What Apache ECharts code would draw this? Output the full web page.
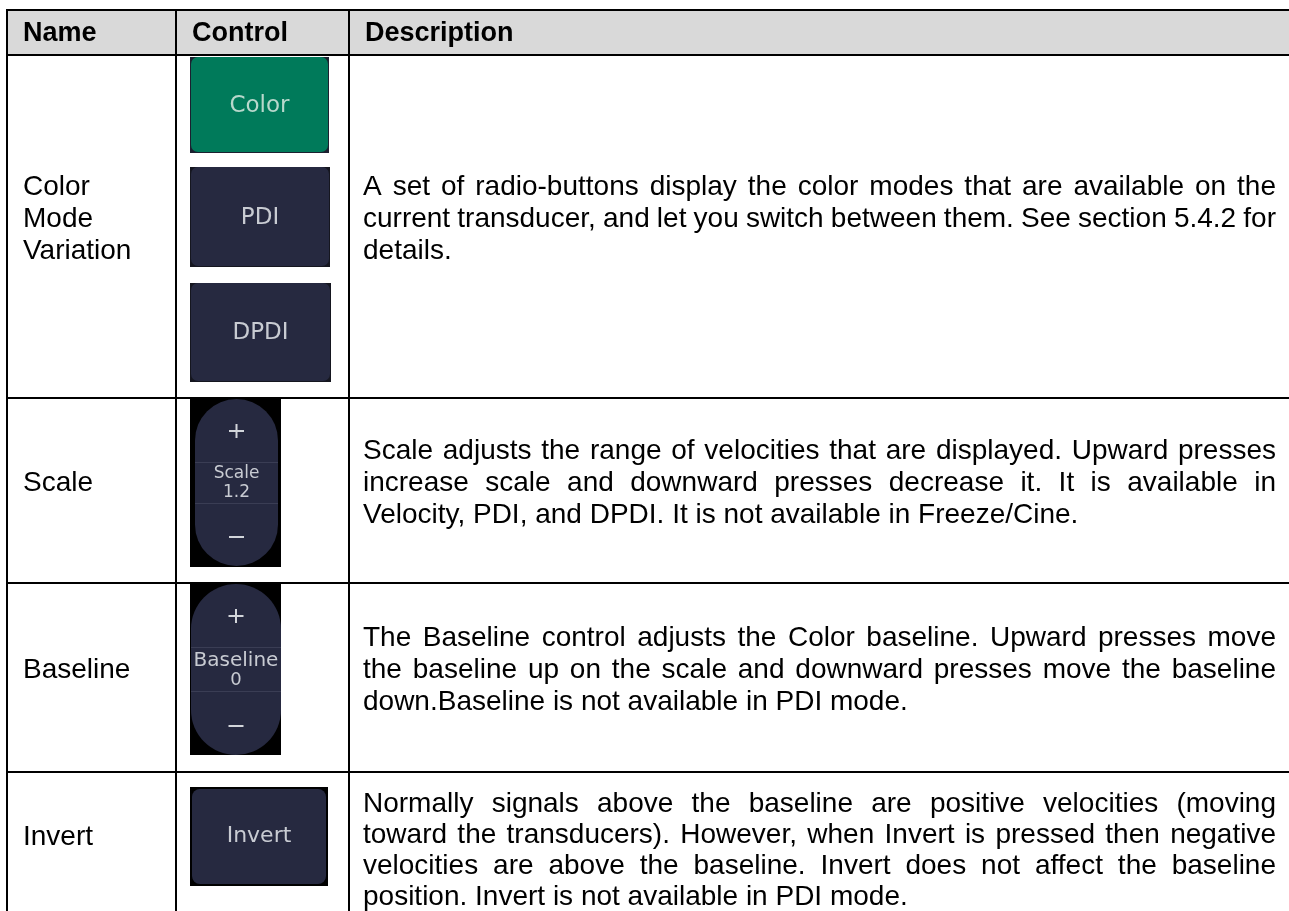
<!DOCTYPE html>
<html>
<head>
<meta charset="utf-8">
<script src="https://cdn.jsdelivr.net/npm/echarts@6/dist/echarts.min.js"></script>
<style>
html,body{margin:0;padding:0;background:#fff;}
#main{width:1289px;height:911px;}
</style>
</head>
<body>
<div id="main"></div>
<script>
// ---- data ----
const headers = ['Name', 'Control', 'Description'];
const names = [['Color', 'Mode', 'Variation'], ['Scale'], ['Baseline'], ['Invert']];
const colorModes = ['Color', 'PDI', 'DPDI'];
const stepperLabels = [['Scale', '1.2'], ['Baseline', '0']];
const toggleLabel = 'Invert';
const descriptions = [
  ['A set of radio-buttons display the color modes that are available on the',
   'current transducer, and let you switch between them. See section 5.4.2 for',
   'details.'],
  ['Scale adjusts the range of velocities that are displayed. Upward presses',
   'increase scale and downward presses decrease it. It is available in',
   'Velocity, PDI, and DPDI. It is not available in Freeze/Cine.'],
  ['The Baseline control adjusts the Color baseline. Upward presses move',
   'the baseline up on the scale and downward presses move the baseline',
   'down.Baseline is not available in PDI mode.'],
  ['Normally signals above the baseline are positive velocities (moving',
   'toward the transducers). However, when Invert is pressed then negative',
   'velocities are above the baseline. Invert does not affect the baseline',
   'position. Invert is not available in PDI mode.']
];

// ---- layout ----
const colX = [7, 176, 349, 1290];
const rowY = [10, 55, 398, 583, 772, 922];
const textFont = '28px "Liberation Sans", Arial, sans-serif';
const boldFont = 'bold 27px "Liberation Sans", Arial, sans-serif';
const uiFont = '"DejaVu Sans", sans-serif';
const lineHs = [32, 32, 32, 31];
const descLeft = 363, descRight = 1276;
const NAVY = '#262940', GREEN = '#007A5A', UITXT = '#C8CBD2';

const measureCtx = document.createElement('canvas').getContext('2d');
function tw(t, font) { measureCtx.font = font; return measureCtx.measureText(t).width; }

function txt(t, x, y, font, fill, align) {
  return {
    type: 'text', silent: true,
    style: {
      text: t, x: x, y: y, font: font, fill: fill,
      align: align || 'left', verticalAlign: 'middle',
      textAlign: align || 'left', textVerticalAlign: 'middle'
    }
  };
}
function rect(x, y, w, h, fill, r) {
  return { type: 'rect', silent: true, shape: { x: x, y: y, width: w, height: h, r: r || 0 }, style: { fill: fill } };
}
function line(x1, y1, x2, y2, stroke, lw) {
  return { type: 'line', silent: true, shape: { x1: x1, y1: y1, x2: x2, y2: y2 }, style: { stroke: stroke, lineWidth: lw } };
}

const els = [];
// header background
els.push(rect(colX[0], rowY[0], colX[3] - colX[0], rowY[1] - rowY[0], '#D9D9D9'));
const headerCy = (rowY[0] + rowY[1]) / 2 + 1;
headers.forEach((h, i) => els.push(txt(h, colX[i] + 16, headerCy, boldFont, '#000')));

// name column + descriptions
const labelY = [219, 483, 670, 837];
const descY = [219, 483, 670, 850.5];
names.forEach((lines, i) => {
  const n = lines.length;
  lines.forEach((t, k) => {
    els.push(txt(t, colX[0] + 16, labelY[i] + (k - (n - 1) / 2) * lineHs[i], textFont, '#000'));
  });
});

function justified(t, y, last) {
  if (last) { els.push(txt(t, descLeft, y, textFont, '#000')); return; }
  const words = t.split(' ');
  const ws = words.map(w => tw(w, textFont));
  const sum = ws.reduce((a, b) => a + b, 0);
  const gap = (descRight - descLeft - sum) / (words.length - 1);
  let x = descLeft;
  words.forEach((w, k) => { els.push(txt(w, x, y, textFont, '#000')); x += ws[k] + gap; });
}
descriptions.forEach((lines, i) => {
  const n = lines.length;
  lines.forEach((t, k) => justified(t, descY[i] + (k - (n - 1) / 2) * lineHs[i], k === n - 1));
});

// color mode buttons
const btnBoxes = [[190, 57, 139, 96], [190, 167, 140, 100], [190, 283, 141, 99]];
colorModes.forEach((m, i) => {
  const b = btnBoxes[i];
  els.push(rect(b[0], b[1], b[2], b[3], i === 0 ? '#1C2030' : '#15161F'));
  els.push(rect(b[0] + 1, b[1], b[2] - 2, b[3] - 1, i === 0 ? GREEN : NAVY, 7));
  els.push(txt(m, b[0] + b[2] / 2, b[1] + b[3] / 2 + 1, '23px ' + uiFont, i === 0 ? '#B8D8CC' : UITXT, 'center'));
});

// steppers (Scale, Baseline)
const stepBoxes = [
  { bg: [190, 399, 91, 168], pill: [195, 399, 83, 167], plus: 431, sep: [462, 503], t: [474, 493], minus: 537, fs: [17, 17] },
  { bg: [190, 584, 91, 171], pill: [191, 584, 90, 171], plus: 616, sep: [647, 691], t: [661, 680], minus: 726, fs: [20, 18] }
];
stepperLabels.forEach((lbls, i) => {
  const s = stepBoxes[i];
  els.push(rect(s.bg[0], s.bg[1], s.bg[2], s.bg[3], '#000'));
  const p = s.pill;
  els.push(rect(p[0], p[1], p[2], p[3], NAVY, p[2] / 2));
  const cx = p[0] + p[2] / 2;
  s.sep.forEach(y => els.push(line(p[0], y + 0.5, p[0] + p[2], y + 0.5, '#3A3D54', 1)));
  els.push(line(cx - 7.5, s.plus, cx + 7.5, s.plus, '#D2D5DA', 2));
  els.push(line(cx, s.plus - 7, cx, s.plus + 7, '#D2D5DA', 2));
  els.push(line(cx - 7.5, s.minus, cx + 7.5, s.minus, '#D2D5DA', 2));
  lbls.forEach((t, k) => els.push(txt(t, cx, s.t[k], s.fs[k] + 'px ' + uiFont, UITXT, 'center')));
});

// invert toggle
const inv = [190, 787, 138, 99];
els.push(rect(inv[0], inv[1], inv[2], inv[3], '#000'));
els.push(rect(inv[0] + 2, inv[1] + 2, inv[2] - 4, inv[3] - 4, NAVY, 8));
els.push(txt(toggleLabel, inv[0] + inv[2] / 2, inv[1] + inv[3] / 2, '22px ' + uiFont, UITXT, 'center'));

// grid lines
for (let r = 0; r < rowY.length - 1; r++) els.push(line(colX[0] - 1, rowY[r], colX[3], rowY[r], '#000', 2));
for (let c = 0; c < 3; c++) els.push(line(colX[c], rowY[0] - 1, colX[c], 911, '#000', 2));

const chart = echarts.init(document.getElementById('main'), null, { renderer: 'canvas' });
chart.setOption({ backgroundColor: '#fff', animation: false, graphic: { elements: els } });
</script>
</body>
</html>
